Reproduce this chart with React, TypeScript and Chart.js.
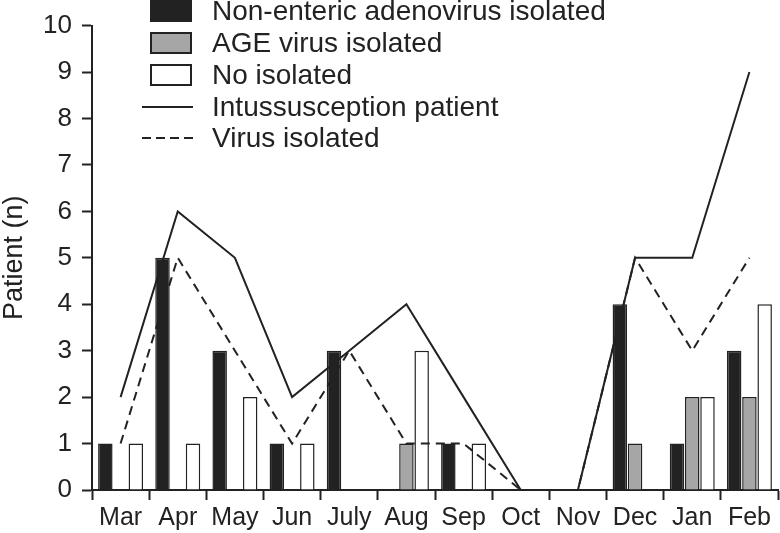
import React, { useEffect, useRef } from "react";
import { Chart, registerables } from "chart.js";

Chart.register(...registerables);

const months = ["Mar", "Apr", "May", "Jun", "July", "Aug", "Sep", "Oct", "Nov", "Dec", "Jan", "Feb"];
const nonEnteric = [1, 5, 3, 1, 3, 0, 1, 0, 0, 4, 1, 3];
const ageVirus = [0, 0, 0, 0, 0, 1, 0, 0, 0, 1, 2, 2];
const noIsolated = [1, 1, 2, 1, 0, 3, 1, 0, 0, 0, 2, 4];
const intussusception = [2, 6, 5, 2, 3, 4, 2, 0, 0, 5, 5, 9];
const virusIsolated = [1, 5, 3, 1, 3, 1, 1, 0, 0, 5, 3, 5];
const seriesNames = [
  "Non-enteric adenovirus isolated",
  "AGE virus isolated",
  "No isolated",
  "Intussusception patient",
  "Virus isolated",
];
const yTitle = "Patient (n)";

const INK = "#222222";
const FONT = "'Liberation Sans', Arial, Helvetica, sans-serif";

const legendPlugin = {
  id: "customLegend",
  afterDraw(chart: any) {
    const ctx = chart.ctx as CanvasRenderingContext2D;
    const rows = [11, 43, 75, 107, 138];
    const fills = ["#222222", "#a6a6a6", "#ffffff"];
    ctx.save();
    ctx.strokeStyle = INK;
    ctx.lineWidth = 2;
    for (let i = 0; i < 5; i++) {
      const cy = rows[i];
      if (i < 3) {
        ctx.fillStyle = fills[i];
        ctx.fillRect(151, cy - 10, 40, 20);
        ctx.setLineDash([]);
        ctx.strokeRect(151, cy - 10, 40, 20);
      } else {
        ctx.beginPath();
        ctx.setLineDash(i === 4 ? [9, 5] : []);
        ctx.moveTo(142, cy);
        ctx.lineTo(193, cy);
        ctx.stroke();
      }
      ctx.setLineDash([]);
      ctx.fillStyle = INK;
      ctx.font = `28px ${FONT}`;
      ctx.textBaseline = "middle";
      ctx.textAlign = "left";
      ctx.fillText(seriesNames[i], 212, cy + 1);
    }
    ctx.restore();
  },
};

export default function App() {
  const ref = useRef<HTMLCanvasElement | null>(null);

  useEffect(() => {
    document.body.style.margin = "0";
    if (!ref.current) return;
    const chart = new Chart(ref.current, {
      type: "bar",
      data: {
        labels: months,
        datasets: [
          {
            type: "line",
            label: seriesNames[3],
            data: intussusception,
            borderColor: INK,
            borderWidth: 2,
            pointRadius: 0,
            tension: 0,
            fill: false,
            order: 0,
          } as any,
          {
            type: "line",
            label: seriesNames[4],
            data: virusIsolated,
            borderColor: INK,
            borderWidth: 2,
            borderDash: [9, 6],
            pointRadius: 0,
            tension: 0,
            fill: false,
            order: 0,
          } as any,
          {
            label: seriesNames[0],
            data: nonEnteric,
            backgroundColor: "#222222",
            borderColor: INK,
            borderWidth: 1.5,
            categoryPercentage: 0.8,
            barPercentage: 0.95,
            order: 1,
          },
          {
            label: seriesNames[1],
            data: ageVirus,
            backgroundColor: "#a6a6a6",
            borderColor: INK,
            borderWidth: 1.5,
            categoryPercentage: 0.8,
            barPercentage: 0.95,
            order: 1,
          },
          {
            label: seriesNames[2],
            data: noIsolated,
            backgroundColor: "#ffffff",
            borderColor: INK,
            borderWidth: 1.5,
            categoryPercentage: 0.8,
            barPercentage: 0.95,
            order: 1,
          },
        ],
      },
      options: {
        animation: false,
        responsive: true,
        maintainAspectRatio: false,
        layout: { padding: { top: 20, right: 2, left: 0, bottom: 0 } },
        plugins: {
          legend: { display: false },
          tooltip: { enabled: false },
        },
        scales: {
          x: {
            offset: true,
            grid: {
              display: true,
              offset: true,
              drawOnChartArea: false,
              drawTicks: true,
              tickLength: 10,
              tickWidth: 2,
              color: INK,
            },
            border: { display: true, color: INK, width: 2 },
            ticks: {
              color: INK,
              font: { family: FONT, size: 25 },
              padding: 3,
              maxRotation: 0,
              autoSkip: false,
            },
            afterFit(scale: any) {
              scale.height = 43;
            },
          },
          y: {
            min: 0,
            max: 10,
            ticks: {
              stepSize: 1,
              color: INK,
              font: { family: FONT, size: 26 },
              padding: 10,
            },
            grid: {
              display: true,
              drawOnChartArea: false,
              drawTicks: true,
              tickLength: 10,
              tickWidth: 2,
              color: INK,
            },
            border: { display: true, color: INK, width: 2 },
            title: {
              display: true,
              text: yTitle,
              color: INK,
              font: { family: FONT, size: 27 },
              padding: { top: -2, bottom: 0 },
            },
            afterFit(scale: any) {
              scale.width = 92;
            },
          },
        },
      },
      plugins: [legendPlugin],
    });
    return () => chart.destroy();
  }, []);

  return (
    <div style={{ width: 780, height: 533, position: "relative" }}>
      <canvas ref={ref} />
    </div>
  );
}
